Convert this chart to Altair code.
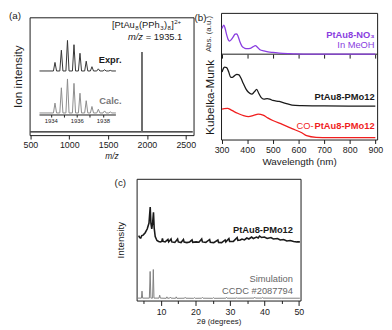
import altair as alt
import pandas as pd

FONT = "Liberation Sans"
INK = "#1a1a1a"
PURPLE = "#8a3ee0"
RED = "#f01e1e"
GREY = "#808080"

# ---------------- (a) ESI mass spectrum ----------------
ms_mz = [500, 1933.0, 1935.1, 1937.2, 2590]
ms_int = [0.0, 0.0, 1.0, 0.0, 0.0]
ms_peak_mz = [1935.1]
ms_peak_int = [1.0]
ms_ticks = [500, 1000, 1500, 2000, 2500]

iso_mz = [1934.32, 1934.81, 1935.28, 1935.78, 1936.24, 1936.72, 1937.16, 1937.65, 1938.13, 1938.57]
iso_expr = [0.28, 0.68, 1.0, 0.86, 0.58, 0.32, 0.14, 0.07, 0.04, 0.02]
iso_calc = [0.29, 0.74, 1.0, 0.87, 0.58, 0.36, 0.19, 0.11, 0.06, 0.03]
iso_span = [1933.13, 1939.0]
iso_ticks = [1934, 1935, 1936, 1937, 1938]
iso_halfwidth = 0.12

# formula label pieces: (text, kind) kind = n normal, s subscript, p superscript
formula = [("[PtAu", "n"), ("8", "s"), ("(PPh", "n"), ("3", "s"), (")", "n"), ("8", "s"), ("]", "n"), ("2+", "p")]

# ---------------- (b) UV-vis / Kubelka-Munk ----------------
purple_nm = [302, 305, 309, 314, 320, 326, 331, 338, 346, 353, 359, 365, 372, 380, 389, 400, 412,
             422, 432, 440, 450, 465, 481, 500, 525, 560, 588, 650, 900]
purple_abs = [0.88, 0.95, 1.0, 0.88, 0.66, 0.50, 0.45, 0.50, 0.60, 0.69, 0.70, 0.60, 0.42, 0.27, 0.21,
              0.19, 0.20, 0.25, 0.29, 0.24, 0.15, 0.11, 0.08, 0.06, 0.04, 0.02, 0.007, 0.0, 0.0]
black_nm = [302, 306, 312, 320, 328, 336, 342, 350, 360, 368, 375, 385, 395, 405, 418, 428, 437, 445,
            455, 465, 478, 488, 500, 525, 550, 575, 613, 700, 900]
black_km = [7.0, 7.3, 7.5, 7.45, 7.0, 6.45, 6.45, 6.6, 6.75, 6.7, 6.4, 5.8, 5.25, 4.9, 4.7, 4.95, 5.2,
            4.8, 4.35, 4.2, 4.25, 4.2, 4.05, 3.95, 3.75, 3.57, 3.52, 3.48, 3.47]
red_nm = [302, 310, 324, 335, 349, 365, 386, 405, 425, 443, 462, 480, 500, 537, 575, 613, 632, 669, 720, 900]
red_km = [3.15, 3.2, 3.23, 3.1, 2.9, 2.7, 2.47, 2.37, 2.5, 2.63, 2.53, 2.25, 1.97, 1.57, 1.13, 0.7,
          0.4, 0.23, 0.2, 0.2]
nm_ticks = [300, 400, 500, 600, 700, 800, 900]

# ---------------- (c) PXRD ----------------
xrd_deg = [3.5, 3.8, 4.1, 4.4, 4.8, 5.4, 6.0, 6.5, 6.85, 7.05, 7.3, 7.55, 7.8, 8.0, 8.3, 8.8, 9.3, 9.8,
           10.2, 10.4, 10.6, 11.2, 12.0, 12.2, 12.9, 13.1, 14.0, 14.8, 15.0, 15.8, 16.5, 16.7, 17.5, 18.3,
           19.0, 19.2, 20.2, 21.0, 21.8, 22.0, 23.0, 24.1, 24.3, 25.3, 26.5, 26.7, 27.6, 28.6, 28.8, 29.7,
           29.9, 31.0, 32.1, 32.3, 33.0, 33.5, 34.2, 34.9, 35.5, 36.3, 36.8, 37.7, 38.2, 38.6, 39.2, 40.0,
           40.8, 41.9, 42.6, 43.8, 44.6, 45.6, 46.5, 47.5, 48.5, 49.4, 50.3]
xrd_int = [67, 65, 64.5, 67, 67.5, 70, 74, 80, 96.5, 80,
           74, 80, 91, 75, 66, 62, 61, 60.5, 61, 64,
           61, 60.5, 63, 60.5, 63.5, 60.5, 60, 63.5, 60.5, 59.8,
           63, 60.3, 59.8, 60.5, 62.5, 60, 60.5, 60.2, 63.5, 60.5,
           60, 63, 60.2, 59.8, 62.5, 60, 59.8, 62.5, 60.5, 64,
           61, 61, 65, 62, 62.5, 63.5, 62.5, 64.5, 63.5, 65.5,
           64, 65.5, 64.5, 66.5, 65, 65.5, 64, 65, 63.5, 64,
           62.5, 63, 61.5, 62, 61, 60.5, 60.5]
sim_deg = [3.0, 4.3, 4.47, 4.65, 6.6, 6.83, 7.05, 7.55, 7.75, 7.95, 9.4, 9.6, 9.8, 11.5, 11.7, 11.9,
           12.5, 12.7, 12.9, 14.2, 14.4, 14.6, 16.8, 17.0, 17.2, 19.5, 19.7, 19.9, 21.8, 22.0, 22.2,
           25.0, 25.2, 25.4, 28.8, 29.0, 29.2, 31.8, 32.0, 32.2, 37.0, 37.2, 37.4, 39.2, 39.4, 39.6,
           45.0, 50.3]
sim_int = [2.5, 2.5, 9.7, 2.5, 2.5, 30, 2.5, 2.5, 32, 2.5, 2.5, 5.5, 2.5, 2.3, 3.8, 2.3,
           2.5, 3.5, 2.5, 2.3, 3.8, 2.3, 2.4, 3.3, 2.4, 2.3, 3.0, 2.3, 2.4, 3.2, 2.4,
           2.3, 3.0, 2.3, 2.4, 3.3, 2.4, 2.4, 3.0, 2.4, 2.5, 3.4, 2.5, 2.5, 3.2, 2.5,
           2.4, 2.4]
deg_ticks = [5, 10, 15, 20, 25, 30, 35, 40, 45, 50]

# ---------------- layout (pixels) ----------------
W_A, H_A = 167, 120
W_B, H_B = 159, 129
W_C, H_C = 167, 124
GAP_AB = 28
C_SHIFT = 86
ROW_GAP = 9
B1_H = H_B * 42.8 / 131.3
B2_H = H_B - B1_H

# Arial / Liberation Sans advance widths (em) for the formula label
CHAR_W = {"[": .278, "]": .278, "P": .667, "t": .278, "A": .667, "u": .556, "(": .333, ")": .333,
          "h": .556, "2": .556, "3": .556, "8": .556, "+": .584}
F_MAIN, F_SUB = 9.5, 6.2
PIECE_GAP = 0.4


def df(**cols):
    return pd.DataFrame(cols)


def isotope_profile(centers, heights):
    xs, ys = [iso_span[0]], [0.0]
    for c, h in zip(centers, heights):
        xs += [c - iso_halfwidth, c, c + iso_halfwidth]
        ys += [0.0, h, 0.0]
    xs.append(iso_span[1])
    ys.append(0.0)
    return df(x=xs, y=ys)


def lin(domain):
    return alt.Scale(domain=domain, nice=False, zero=False)


# ======================= panel (a) =======================
xA = alt.X("x:Q", scale=lin([490, 2600]),
           axis=alt.Axis(values=ms_ticks, format="d", tickSize=4, labelFontSize=9, labelPadding=2,
                         labelFlush=False, title="m/z", titleFontStyle="italic", titleFontSize=8.5,
                         titlePadding=2))
yA = alt.Y("y:Q", scale=lin([-0.04, 1.434]),
           axis=alt.Axis(ticks=False, labels=False, title="Ion intensity", titleFontSize=12,
                         titlePadding=5))

a_line = alt.Chart(df(x=ms_mz, y=ms_int)).mark_line(color=INK, strokeWidth=1.3).encode(x=xA, y=yA)
a_peak = alt.Chart(df(x=ms_peak_mz, y=[0.0], y2=ms_peak_int)).mark_rule(
    color="#6e6e6e", strokeWidth=1.8).encode(x=xA, y=yA, y2="y2:Q")

# formula "[PtAu8(PPh3)8]2+" built from pieces, right end anchored at the data point
sizes = [F_MAIN if k == "n" else F_SUB for _, k in formula]
widths = [sum(CHAR_W[c] for c in t) * s + PIECE_GAP for (t, _), s in zip(formula, sizes)]
total_w = sum(widths)
formula_layers = []
start = 0.0
for (t, k), s, w in zip(formula, sizes, widths):
    dy = 0 if k == "n" else (2.2 if k == "s" else -3.6)
    formula_layers.append(
        alt.Chart(df(x=[2445], y=[1.30], t=[t])).mark_text(
            align="left", baseline="alphabetic", fontSize=s, color=INK, dx=start - total_w, dy=dy
        ).encode(x=xA, y=yA, text="t:N"))
    start += w

a_t2 = alt.Chart(df(x=[2455], y=[1.19], t=["= 1935.1"])).mark_text(
    align="right", baseline="middle", fontSize=9.5, color=INK).encode(x=xA, y=yA, text="t:N")
a_t3 = alt.Chart(df(x=[2455], y=[1.19], t=["m/z"])).mark_text(
    align="right", baseline="middle", fontSize=9.5, fontStyle="italic", color=INK, dx=-40).encode(
    x=xA, y=yA, text="t:N")
a_lab = alt.Chart(df(v=[0])).mark_text(align="left", baseline="middle", fontSize=10, color=INK).encode(
    x=alt.value(-21), y=alt.value(-1), text=alt.value("(a)"))

xI = alt.X("x:Q", scale=lin([1932.37, 1944.963]),
           axis=alt.Axis(orient="bottom", offset=-(21.3 / 122.3) * H_A, values=iso_ticks, format="d",
                         labelExpr="datum.value % 2 === 0 ? datum.label : ''", tickSize=2.5,
                         labelFontSize=6, labelPadding=1, labelFlush=False, domain=False, title=None))
yE = alt.Y("y:Q", scale=lin([-2.10, 1.757]), axis=None)
yK = alt.Y("y:Q", scale=lin([-0.652, 2.813]), axis=None)

e_line = alt.Chart(isotope_profile(iso_mz, iso_expr)).mark_line(color="#333333", strokeWidth=1).encode(x=xI, y=yE)
e_txt = alt.Chart(df(x=[1939.43], y=[0.37], t=["Expr."])).mark_text(
    align="right", baseline="middle", fontSize=9.5, fontWeight="bold", color=INK).encode(x=xI, y=yE, text="t:N")
k_line = alt.Chart(isotope_profile(iso_mz, iso_calc)).mark_line(color="#8c8c8c", strokeWidth=1).encode(x=xI, y=yK)
k_axis = alt.Chart(df(x=[iso_span[0]], x2=[iso_span[1]], y=[-0.06])).mark_rule(
    color=INK, strokeWidth=1).encode(x=xI, x2="x2:Q", y=yK)
k_txt = alt.Chart(df(x=[1939.43], y=[0.363], t=["Calc."])).mark_text(
    align="right", baseline="middle", fontSize=9.5, fontWeight="bold", color="#777777").encode(x=xI, y=yK, text="t:N")

inset = alt.layer(alt.layer(e_line, e_txt), alt.layer(k_line, k_axis, k_txt)).resolve_scale(y="independent")
panel_a = alt.layer(alt.layer(a_line, a_peak, *formula_layers, a_t2, a_t3, a_lab), inset).resolve_scale(
    x="independent", y="independent").properties(width=W_A, height=H_A)

# ======================= panel (b) =======================
xB = alt.X("x:Q", scale=lin([298, 907]),
           axis=alt.Axis(values=nm_ticks, format="d", tickSize=4, labelFontSize=9, labelPadding=2,
                         labelFlush=False, title="Wavelength (nm)", titleFontSize=10, titlePadding=2))
yB2 = alt.Y("y:Q", scale=lin([0, 13.13]),
            axis=alt.Axis(ticks=False, labels=False, title="Kubelka-Munk", titleFontSize=12,
                          titlePadding=5, titleY=B1_H + B2_H / 2))
xB1 = alt.X("x:Q", scale=lin([298, 907]),
            axis=alt.Axis(orient="bottom", offset=-B2_H, values=nm_ticks, tickSize=4, labels=False,
                          domain=False, title=None))
yB1 = alt.Y("y:Q", scale=lin([-2.930, 1.417]),
            axis=alt.Axis(orient="left", ticks=False, labels=False, title="Abs. (a.u.)",
                          titleFontSize=8, titleColor="#333333", titlePadding=9, titleY=B1_H / 2))

b_black = alt.Chart(df(x=black_nm, y=black_km)).mark_line(color=INK, strokeWidth=1.3, interpolate="monotone").encode(x=xB, y=yB2)
b_red = alt.Chart(df(x=red_nm, y=red_km)).mark_line(color=RED, strokeWidth=1.3, interpolate="monotone").encode(x=xB, y=yB2)
b_sep = alt.Chart(df(y=[8.85])).mark_rule(color=INK, strokeWidth=1).encode(y=yB2)
b_t1 = alt.Chart(df(x=[897], y=[4.45], t=["PtAu8-PMo12"])).mark_text(
    align="right", baseline="middle", fontSize=9.5, fontWeight="bold", color=INK).encode(x=xB, y=yB2, text="t:N")
b_t2 = alt.Chart(df(x=[897], y=[1.4], t=["PtAu8-PMo12"])).mark_text(
    align="right", baseline="middle", fontSize=9.5, fontWeight="bold", color=RED).encode(x=xB, y=yB2, text="t:N")
b_t3 = alt.Chart(df(x=[897], y=[1.4], t=["CO-"])).mark_text(
    align="right", baseline="middle", fontSize=9.5, color=RED, dx=-62).encode(x=xB, y=yB2, text="t:N")

b_purple = alt.Chart(df(x=purple_nm, y=purple_abs)).mark_line(color=PURPLE, strokeWidth=1.3, interpolate="monotone").encode(x=xB1, y=yB1)
b_p1 = alt.Chart(df(x=[897], y=[0.646], t=["PtAu8-NO₃"])).mark_text(
    align="right", baseline="middle", fontSize=9.5, fontWeight="bold", color=PURPLE).encode(x=xB1, y=yB1, text="t:N")
b_p2 = alt.Chart(df(x=[897], y=[0.315], t=["In MeOH"])).mark_text(
    align="right", baseline="middle", fontSize=9.5, color=PURPLE).encode(x=xB1, y=yB1, text="t:N")
b_lab = alt.Chart(df(v=[0])).mark_text(align="left", baseline="middle", fontSize=10, color=INK).encode(
    x=alt.value(-27), y=alt.value(5), text=alt.value("(b)"))

panel_b = alt.layer(
    alt.layer(b_black, b_red, b_sep, b_t1, b_t2, b_t3),
    alt.layer(b_purple, b_p1, b_p2, b_lab),
).resolve_scale(x="independent", y="independent").properties(width=W_B, height=H_B)

# ======================= panel (c) =======================
xC = alt.X("x:Q", scale=lin([2.9, 50.5]),
           axis=alt.Axis(values=deg_ticks, labelExpr="datum.value % 10 === 0 ? datum.label : ''",
                         tickSize={"condition": {"test": "datum.value % 10 === 0", "value": 5}, "value": 3},
                         labelFontSize=9, labelPadding=2, labelFlush=False, title="2θ (degrees)",
                         titleFontSize=8, titlePadding=1))
yC = alt.Y("y:Q", scale=lin([0, 125.6]),
           axis=alt.Axis(ticks=False, labels=False, title="Intensity", titleFontSize=10, titlePadding=11))

c_xrd = alt.Chart(df(x=xrd_deg, y=xrd_int)).mark_line(color=INK, strokeWidth=1.6).encode(x=xC, y=yC)
c_sim = alt.Chart(df(x=sim_deg, y=sim_int)).mark_line(color=GREY, strokeWidth=1).encode(x=xC, y=yC)
c_t1 = alt.Chart(df(x=[48.3], y=[72.3], t=["PtAu8-PMo12"])).mark_text(
    align="right", baseline="middle", fontSize=9.5, fontWeight="bold", color=INK).encode(x=xC, y=yC, text="t:N")
c_t2 = alt.Chart(df(x=[48.3, 48.3], y=[22.3, 10.3], t=["Simulation", "CCDC #2087794"])).mark_text(
    align="right", baseline="middle", fontSize=9.5, color="#666666").encode(x=xC, y=yC, text="t:N")
c_lab = alt.Chart(df(v=[0])).mark_text(align="left", baseline="middle", fontSize=10, color=INK).encode(
    x=alt.value(-22.4), y=alt.value(4.8), text=alt.value("(c)"))

panel_c = alt.layer(c_xrd, c_sim, c_t1, c_t2, c_lab).properties(width=W_C, height=H_C)

spacer = alt.Chart(df(v=[0])).mark_point(opacity=0).encode(x=alt.value(0), y=alt.value(0)).properties(
    width=C_SHIFT, height=H_C, view=alt.ViewBackground(strokeOpacity=0))

top = alt.hconcat(panel_a, panel_b, spacing=GAP_AB, bounds="flush", center=True)
bottom = alt.hconcat(spacer, panel_c, spacing=0)

chart = alt.vconcat(top, bottom, spacing=ROW_GAP, padding=0, background="white").configure_view(
    stroke=INK, strokeWidth=1
).configure_axis(
    domain=False, grid=False, labelFont=FONT, titleFont=FONT, labelColor=INK, titleColor=INK,
    tickColor=INK, titleFontWeight="normal"
).configure_text(font=FONT)

chart.save("out.html", embed_options={"renderer": "svg", "actions": False})
